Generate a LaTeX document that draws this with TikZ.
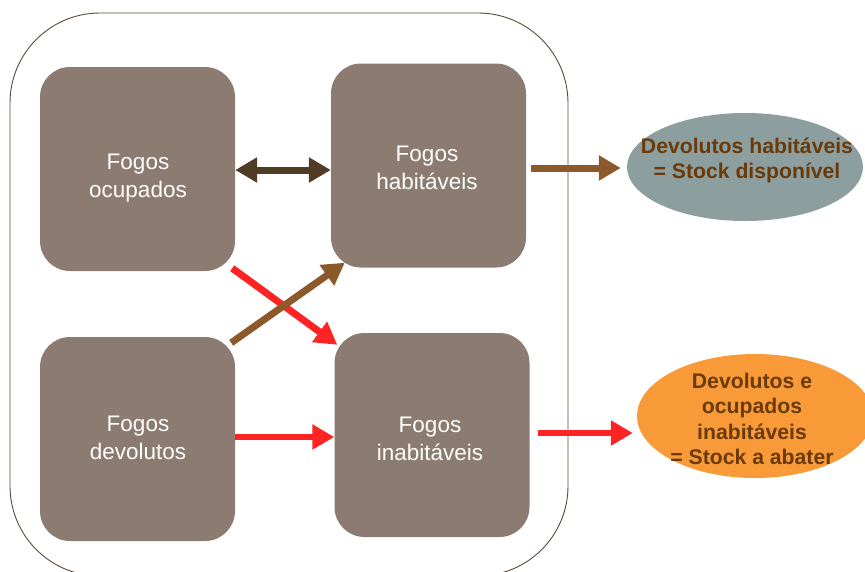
\documentclass[tikz,border=0pt]{standalone}
\usepackage{fontspec}
\setmainfont{Liberation Sans}
\usetikzlibrary{shapes.geometric,arrows.meta}

\definecolor{boxfill}{HTML}{8B7B70}
\definecolor{frame}{HTML}{5A4A3A}
\definecolor{darkarrow}{HTML}{503C24}
\definecolor{brownarrow}{HTML}{8C5A2A}
\definecolor{redarrow}{HTML}{FF2424}
\definecolor{greyblue}{HTML}{8C9E9E}
\definecolor{orangefill}{HTML}{F99A38}
\definecolor{labelbrown}{HTML}{6B3A0B}

\tikzset{
  fogo/.style={rectangle, fill=boxfill, rounded corners=30pt,
    minimum width=195pt, minimum height=204pt, inner sep=0pt},
  fogotext/.style={inner sep=0pt, align=center, text=white,
    font=\fontsize{22.5}{28}\selectfont},
  result/.style={ellipse, inner sep=0pt},
  resulttext/.style={inner sep=0pt, align=center, text=labelbrown,
    font=\bfseries\fontsize{21.2}{25.3}\selectfont},
  flow/.style={line width=7pt, -{Triangle[width=24pt,length=22pt]}},
  twoway/.style={line width=7pt, {Triangle[width=24pt,length=22pt]}-{Triangle[width=24pt,length=22pt]}}
}

\begin{document}
\begin{tikzpicture}[x=1pt, y=-1pt]
  \useasboundingbox (0,0) rectangle (865,571);
  \clip (0,0) rectangle (865,571);

  % outer frame grouping the four kinds of dwellings
  \node[draw=frame, line width=0.9pt, rounded corners=90pt,
        minimum width=558pt, minimum height=563pt, inner sep=0pt]
        (frame) at (289,294.5) {};

  % dwelling boxes
  \node[fogo] (ocup) at (137.5,169) {};
  \node[fogo] (habit) at (428.5,165.5) {};
  \node[fogo] (devol) at (137.5,439) {};
  \node[fogo] (inab) at (432,435) {};
  \node[fogotext] (ocupT) at (138,178) {Fogos\\ocupados};
  \node[fogotext] (habitT) at (427,168) {Fogos\\habitáveis};
  \node[fogotext] (devolT) at (138,437.5) {Fogos\\devolutos};
  \node[fogotext] (inabT) at (430,438.5) {Fogos\\inabitáveis};

  % resulting stocks
  \node[result, fill=greyblue, minimum width=236pt, minimum height=108pt]
        (disp) at (745,167) {};
  \node[resulttext] (dispT) at (747,160.5) {Devolutos habitáveis\\= Stock disponível};
  \node[result, fill=orangefill, minimum width=236pt, minimum height=124pt]
        (abat) at (755,416) {};
  \node[resulttext] (abatT) at (752,419) {Devolutos e\\ocupados\\inabitáveis\\= Stock a abater};

  % transitions
  \draw[twoway, darkarrow] ([shift={(0,1)}]ocup.east) -- ([shift={(0,1)}]ocup.east -| habit.west);
  \draw[flow, brownarrow] ([shift={(5,2.5)}]habit.east) -- ([shift={(-6,2.5)}]habit.east -| disp.west);
  \draw[flow, redarrow] ([shift={(-3,-3)}]ocup.south east) -- ([shift={(3,12)}]inab.north west);
  \draw[flow, brownarrow] ([shift={(-4,6)}]devol.north east) -- ([shift={(14,-5)}]habit.south west);
  \draw[flow, redarrow, line width=6pt] ([shift={(0,-2)}]devol.east) -- ([shift={(0,-2)}]devol.east -| inab.west);
  \draw[flow, redarrow, line width=6pt] ([shift={(8,-2)}]inab.east) -- ([shift={(-4,-2)}]inab.east -| abat.west);
\end{tikzpicture}
\end{document}
